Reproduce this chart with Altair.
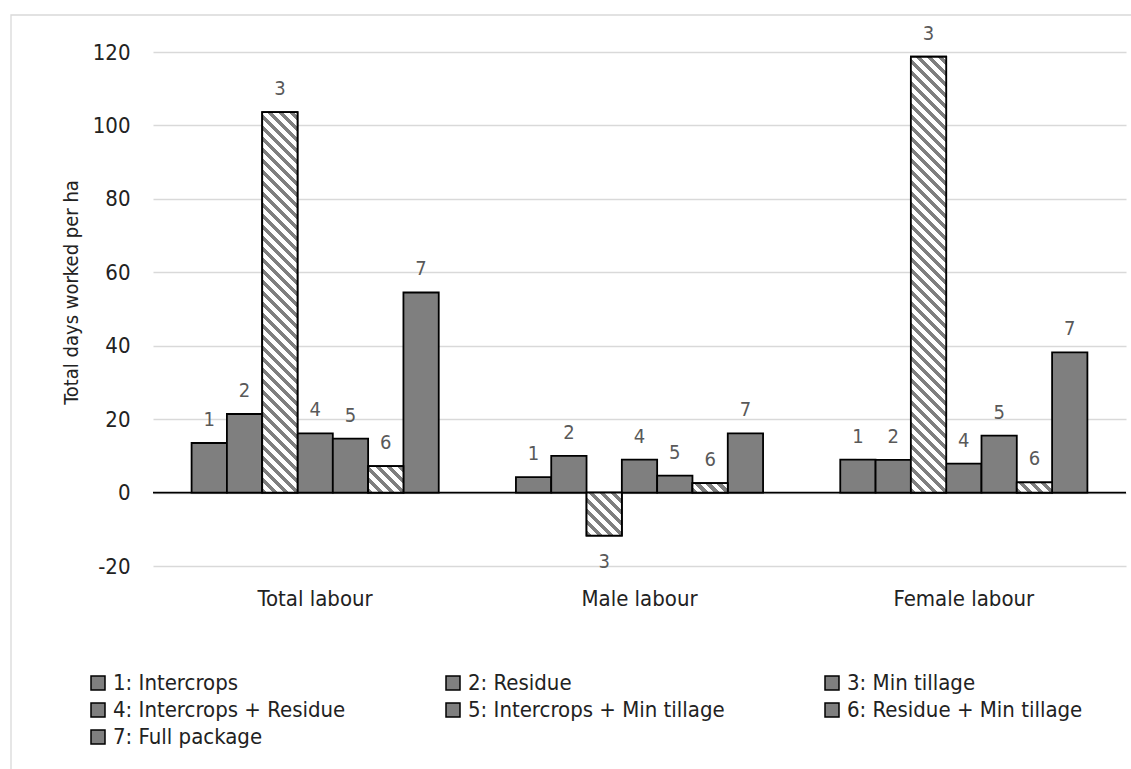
import altair as alt

# Labour use by conservation-agriculture treatment (days per hectare)
groups = ["Total labour", "Male labour", "Female labour"]
treatments = [
    "1: Intercrops",
    "2: Residue",
    "3: Min tillage",
    "4: Intercrops + Residue",
    "5: Intercrops + Min tillage",
    "6: Residue + Min tillage",
    "7: Full package",
]
total_labour = [13.5, 21.4, 103.6, 16.1, 14.7, 7.2, 54.5]
male_labour = [4.2, 10.0, -11.7, 9.0, 4.6, 2.6, 16.1]
female_labour = [9.0, 8.9, 118.7, 7.9, 15.5, 2.8, 38.2]
hatched_treatments = {"3: Min tillage", "6: Residue + Min tillage"}

FONT = "DejaVu Sans Condensed, sans-serif"
TEXT = "#222222"
BAR_GREY = "#7f7f7f"
PLOT_W, PLOT_H = 973, 514
Y_MIN, Y_MAX = -20, 120
GROUP_GAP = 0.238  # share of each group slot left empty between clusters
OUTLINE = 1.8

px_per_unit = PLOT_H / (Y_MAX - Y_MIN)
bar_w = PLOT_W / len(groups) * (1 - GROUP_GAP) / len(treatments)


def hatch(value, period=11.0, ink=0.48):
    """Diagonal stripe fill as a linear gradient in the bar's bounding box."""
    w = bar_w
    h = max(abs(value) * px_per_unit, 1.0)
    span = w + h
    c = span / (w * w + h * h)
    stops = []
    pos = 0.0
    while pos < span:
        a = pos / span
        b = min((pos + ink * period) / span, 1.0)
        e = min((pos + period) / span, 1.0)
        stops += [
            {"offset": a, "color": BAR_GREY},
            {"offset": b, "color": BAR_GREY},
            {"offset": b, "color": "#ffffff"},
            {"offset": e, "color": "#ffffff"},
        ]
        pos += period
    return {"gradient": "linear", "x1": 0, "y1": 1, "x2": c * w, "y2": 1 - c * h,
            "stops": stops}


rows = []
for group, series in zip(groups, [total_labour, male_labour, female_labour]):
    for name, v in zip(treatments, series):
        row = {"group": group, "treatment": name, "value": v,
               "code": name.split(":")[0], "hatched": name in hatched_treatments}
        if row["hatched"]:
            row["hatch"] = hatch(v)
        rows.append(row)

data = alt.Data(values=rows)

x_enc = alt.X(
    "group:N", sort=groups, title=None,
    scale=alt.Scale(paddingInner=GROUP_GAP, paddingOuter=GROUP_GAP / 2),
    axis=alt.Axis(domain=False, ticks=False, tickSize=0, grid=False, labelAngle=0,
                  labelPadding=22, labelFontSize=22, labelFont=FONT, labelColor=TEXT),
)
xoff_enc = alt.XOffset(
    "treatment:N", sort=treatments,
    scale=alt.Scale(paddingInner=0, paddingOuter=0),
)
y_enc = alt.Y(
    "value:Q", stack=None,
    scale=alt.Scale(domain=[Y_MIN, Y_MAX], nice=False, zero=False),
    axis=alt.Axis(values=list(range(Y_MIN, Y_MAX + 1, 20)), domain=False, ticks=False,
                  tickSize=0, grid=True, gridColor="#d9d9d9", gridWidth=1.3,
                  labelPadding=23, labelFontSize=22, labelFont=FONT, labelColor=TEXT,
                  labelExpr="'' + datum.value",
                  title="Total days worked per ha", titleFontSize=20, titleFont=FONT,
                  titleFontWeight="normal", titleColor=TEXT, titleX=-76, titleY=240,
                  titleBaseline="alphabetic"),
)

frame = alt.Chart(alt.Data(values=[{}])).mark_rect(
    filled=False, stroke="#d9d9d9", strokeWidth=1.3
).encode(x=alt.value(-142), x2=alt.value(1100), y=alt.value(-37), y2=alt.value(800))

zero_line = alt.Chart(alt.Data(values=[{}])).mark_rule(
    color="black", strokeWidth=1.8
).encode(y=alt.datum(0))

bars = alt.Chart(data).mark_bar(stroke="black", strokeWidth=OUTLINE).encode(
    x=x_enc, xOffset=xoff_enc, y=y_enc,
    color=alt.Color(
        "treatment:N", sort=treatments,
        scale=alt.Scale(domain=treatments, range=[BAR_GREY] * len(treatments)),
        legend=alt.Legend(
            orient="none", direction="horizontal", legendX=-66, legendY=620,
            columns=3, columnPadding=96, rowPadding=5, padding=0, title=None,
            symbolType="square", symbolSize=196, symbolStrokeColor="black",
            symbolStrokeWidth=1.5, labelFontSize=22, labelFont=FONT,
            labelColor=TEXT, labelOffset=4, labelLimit=400,
        ),
    ),
)

hatched_bars = alt.Chart(data).transform_filter("datum.hatched").mark_bar(
    stroke="black", strokeWidth=OUTLINE
).encode(
    x=x_enc, xOffset=xoff_enc, y=y_enc,
    fill=alt.Fill("hatch:N", scale=None, legend=None),
)

label_style = dict(font=FONT, fontSize=20, color="#595959", baseline="middle",
                   align="center")
labels_up = alt.Chart(data).transform_filter("datum.value >= 0").mark_text(
    dy=-23, **label_style
).encode(x=x_enc, xOffset=xoff_enc, y=y_enc, text="code:N")
labels_down = alt.Chart(data).transform_filter("datum.value < 0").mark_text(
    dy=26, **label_style
).encode(x=x_enc, xOffset=xoff_enc, y=y_enc, text="code:N")

chart = alt.layer(
    frame, zero_line, bars, hatched_bars, labels_up, labels_down
).properties(
    width=PLOT_W, height=PLOT_H,
    autosize="none",
    padding={"left": 153, "top": 52, "right": 5, "bottom": 203},
    background="white",
).configure_view(stroke=None)

chart.save("out.html", embed_options={"renderer": "svg", "actions": False})
